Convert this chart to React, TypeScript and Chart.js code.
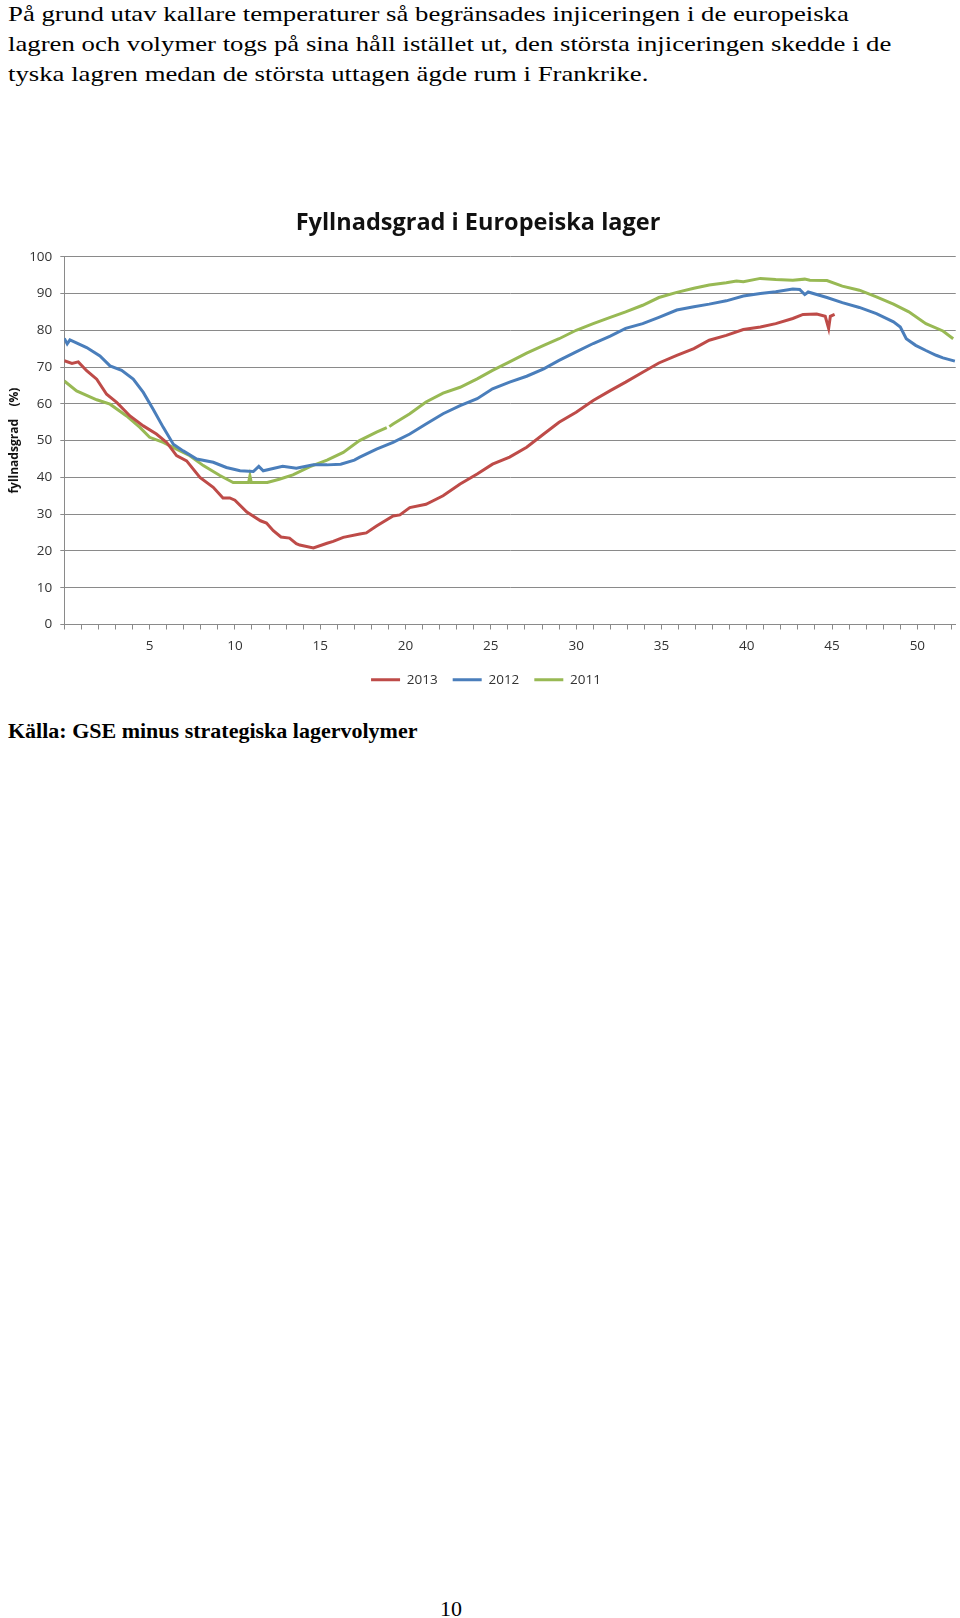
import React, { useEffect, useRef } from 'react';
import { Chart, registerables } from 'chart.js';

Chart.register(...registerables);

const CHART_TITLE = 'Fyllnadsgrad i Europeiska lager';
const Y_AXIS_TITLE = 'fyllnadsgrad    (%)';
const SERIES_LABELS = ['2013', '2012', '2011'];
const SERIES_COLORS = ['#BE4B48', '#4A7EBB', '#98B954'];

const X_TICK_LABELS = [5, 10, 15, 20, 25, 30, 35, 40, 45, 50];

const WEEKS_2013 = [0, 0.45, 0.82, 1.31, 1.9, 2.48, 3.07, 3.85, 4.63, 5.4, 6.0, 6.58, 7.17, 7.95, 8.73, 9.3, 9.7, 10.0, 10.7, 11.5, 11.85, 12.25, 12.7, 13.2, 13.6, 13.8, 14.6, 15.4, 15.76, 16.35, 17.32, 17.7, 18.3, 19.27, 19.67, 20.25, 21.2, 22.2, 23.2, 24.2, 25.1, 26.1, 27.1, 28.1, 29.0, 30.0, 31.0, 32.0, 32.9, 33.9, 34.85, 35.9, 36.9, 37.8, 38.8, 39.8, 40.8, 41.7, 42.7, 43.3, 44.1, 44.6, 44.8, 44.9, 45.15];
const VALUES_2013 = [71.7, 71.0, 71.4, 69.0, 66.7, 62.6, 60.4, 56.7, 54.0, 51.8, 49.5, 45.9, 44.5, 40.0, 37.3, 34.4, 34.4, 33.8, 30.6, 28.2, 27.6, 25.5, 23.8, 23.5, 22.0, 21.6, 20.8, 22.1, 22.6, 23.7, 24.6, 24.9, 26.8, 29.5, 29.8, 31.8, 32.7, 35.0, 38.2, 40.9, 43.6, 45.5, 48.2, 51.8, 55.0, 57.7, 60.9, 63.6, 65.9, 68.6, 71.1, 73.2, 75.0, 77.3, 78.6, 80.2, 80.9, 81.8, 83.2, 84.3, 84.4, 83.8, 80.5, 83.8, 84.3];

const WEEKS_2012 = [0, 0.17, 0.33, 1.31, 2.09, 2.68, 3.36, 4.04, 4.63, 5.2, 5.8, 6.39, 6.97, 7.76, 8.73, 9.5, 10.3, 11.08, 11.4, 11.66, 12.8, 13.6, 14.6, 15.4, 16.2, 17.0, 17.32, 18.3, 19.27, 20.25, 21.2, 22.2, 23.2, 24.2, 25.1, 26.1, 27.1, 28.1, 29.0, 30.0, 31.0, 32.0, 32.9, 33.9, 34.85, 35.9, 36.9, 37.8, 38.8, 39.8, 40.8, 41.7, 42.7, 43.1, 43.4, 43.6, 44.7, 45.6, 46.6, 47.6, 48.6, 49.0, 49.35, 49.9, 50.5, 51.1, 51.5, 52.2];
const VALUES_2012 = [77.8, 76.3, 77.4, 75.3, 73.0, 70.3, 69.1, 66.7, 63.1, 58.6, 53.6, 49.0, 47.2, 45.0, 44.1, 42.7, 41.8, 41.6, 43.0, 41.8, 43.0, 42.5, 43.4, 43.4, 43.6, 44.7, 45.5, 47.7, 49.5, 51.8, 54.5, 57.3, 59.5, 61.4, 64.1, 65.9, 67.5, 69.5, 71.8, 74.1, 76.4, 78.4, 80.5, 81.8, 83.5, 85.5, 86.4, 87.1, 88.0, 89.3, 90.0, 90.5, 91.2, 91.1, 89.7, 90.4, 88.9, 87.5, 86.2, 84.5, 82.3, 80.9, 77.7, 75.9, 74.5, 73.2, 72.5, 71.6];

const WEEKS_2011 = [0, 0.72, 1.9, 2.68, 3.65, 4.43, 5.0, 5.8, 6.58, 7.36, 8.15, 9.12, 9.9, 10.8, 10.88, 10.96, 11.9, 12.6, 13.4, 14.4, 15.4, 16.35, 17.3, 18.3, 18.9, 18.97, 19.05, 19.27, 20.25, 21.2, 22.2, 23.2, 24.2, 25.1, 26.1, 27.1, 28.1, 29.0, 30.0, 31.0, 32.0, 32.9, 33.9, 34.85, 35.9, 36.9, 37.8, 38.8, 39.4, 39.8, 40.8, 41.7, 42.7, 43.4, 43.7, 44.7, 45.6, 46.6, 47.6, 48.6, 49.5, 50.5, 51.5, 52.1];
const VALUES_2011 = [66.2, 63.5, 61.1, 59.9, 56.7, 53.6, 50.9, 49.5, 47.7, 45.9, 43.2, 40.5, 38.6, 38.6, 40.4, 38.6, 38.6, 39.5, 40.7, 42.9, 44.7, 46.8, 50.0, 52.3, 53.5, null, 53.8, 54.5, 57.3, 60.5, 62.9, 64.5, 66.8, 69.1, 71.4, 73.8, 75.9, 77.7, 80.0, 81.8, 83.5, 85.0, 86.8, 88.9, 90.3, 91.4, 92.3, 92.9, 93.4, 93.2, 94.1, 93.8, 93.6, 93.9, 93.6, 93.5, 92.0, 90.9, 89.1, 87.1, 85.0, 81.8, 79.8, 77.7];

const SERIES_WEEKS = [WEEKS_2013, WEEKS_2012, WEEKS_2011];
const SERIES_VALUES = [VALUES_2013, VALUES_2012, VALUES_2011];

const PARAGRAPH_LINES = [
  'På grund utav kallare temperaturer så begränsades injiceringen i de europeiska',
  'lagren och volymer togs på sina håll istället ut, den största injiceringen skedde i de',
  'tyska lagren medan de största uttagen ägde rum i Frankrike.',
];
const SOURCE_TEXT = 'Källa: GSE minus strategiska lagervolymer';
const PAGE_NUMBER = '10';

const SANS = '"Open Sans", Lato, sans-serif';
const GRID = '#8a8a8a';

const legendShift = {
  id: 'legendShift',
  afterLayout(chart: any) {
    if (chart.legend) {
      chart.legend.left += 8;
      chart.legend.right += 8;
    }
  },
};

export default function App() {
  const canvasRef = useRef<HTMLCanvasElement | null>(null);

  useEffect(() => {
    if (!canvasRef.current) return;
    const datasets = SERIES_LABELS.map((label, s) => ({
      label,
      data: SERIES_WEEKS[s].map((w, i) => ({ x: w, y: SERIES_VALUES[s][i] })),
      borderColor: SERIES_COLORS[s],
      backgroundColor: SERIES_COLORS[s],
      borderWidth: 3,
      pointRadius: 0,
      tension: 0,
      fill: false,
      spanGaps: false,
    }));
    const chart = new Chart(canvasRef.current, {
      type: 'line',
      data: { datasets: datasets as any },
      plugins: [legendShift],
      options: {
        animation: false,
        responsive: false,
        maintainAspectRatio: false,
        layout: { padding: { left: 0, right: 4, top: 0, bottom: 3.4 } },
        plugins: {
          tooltip: { enabled: false },
          title: {
            display: true,
            text: CHART_TITLE,
            color: '#111',
            font: { family: SANS, size: 23.5, weight: 'bold' },
            padding: { top: 19.6, bottom: 18.9 },
          },
          legend: {
            position: 'bottom',
            labels: {
              usePointStyle: true,
              pointStyle: 'line',
              pointStyleWidth: 29,
              boxHeight: 13,
              padding: 15,
              color: '#333',
              font: { family: SANS, size: 13.5 },
            },
          },
        },
        scales: {
          x: {
            type: 'linear',
            min: 0,
            max: 52.25,
            afterFit: (s: any) => { s.height = 33.6; },
            ticks: {
              stepSize: 1,
              maxTicksLimit: 60,
              autoSkip: false,
              maxRotation: 0,
              includeBounds: false,
              padding: 8.5,
              color: '#333',
              font: { family: SANS, size: 13.5 },
              callback: (v: any) => (X_TICK_LABELS.includes(Number(v)) ? String(v) : ''),
            },
            grid: { drawOnChartArea: false, drawTicks: true, tickLength: 5, color: GRID, lineWidth: 1 },
            border: { display: true, color: GRID, width: 1 },
          },
          y: {
            min: 0,
            max: 100,
            afterFit: (s: any) => { s.width = 64.3; },
            ticks: {
              stepSize: 10,
              padding: 8,
              color: '#333',
              font: { family: SANS, size: 13.5 },
            },
            grid: { color: GRID, lineWidth: 1, tickLength: 4 },
            border: { display: true, color: GRID, width: 1 },
            title: {
              display: true,
              text: Y_AXIS_TITLE,
              color: '#111',
              font: { family: SANS, size: 12, weight: 'bold' },
              padding: { top: 7.8, bottom: 0 },
            },
          },
        },
      } as any,
    });
    return () => chart.destroy();
  }, []);

  const serif = '"Liberation Serif", "Times New Roman", serif';
  return (
    <div>
      <div style={{ position: 'absolute', left: 8, top: -1, fontFamily: serif, fontSize: 22, lineHeight: '29.8px', whiteSpace: 'nowrap', color: '#000', transform: 'scaleX(1.216)', transformOrigin: 'left top' }}>
        {PARAGRAPH_LINES.map((l, i) => (
          <div key={i}>{l}</div>
        ))}
      </div>
      <canvas ref={canvasRef} width={960} height={510} style={{ position: 'absolute', left: 0, top: 190, width: 960, height: 510 }} />
      <div style={{ position: 'absolute', left: 8, top: 719, fontFamily: serif, fontSize: 22, fontWeight: 'bold', lineHeight: '24px', whiteSpace: 'nowrap', color: '#000' }}>
        {SOURCE_TEXT}
      </div>
      <div style={{ position: 'absolute', left: 440, top: 1596.5, fontFamily: serif, fontSize: 22, lineHeight: '24px', color: '#000' }}>
        {PAGE_NUMBER}
      </div>
    </div>
  );
}
